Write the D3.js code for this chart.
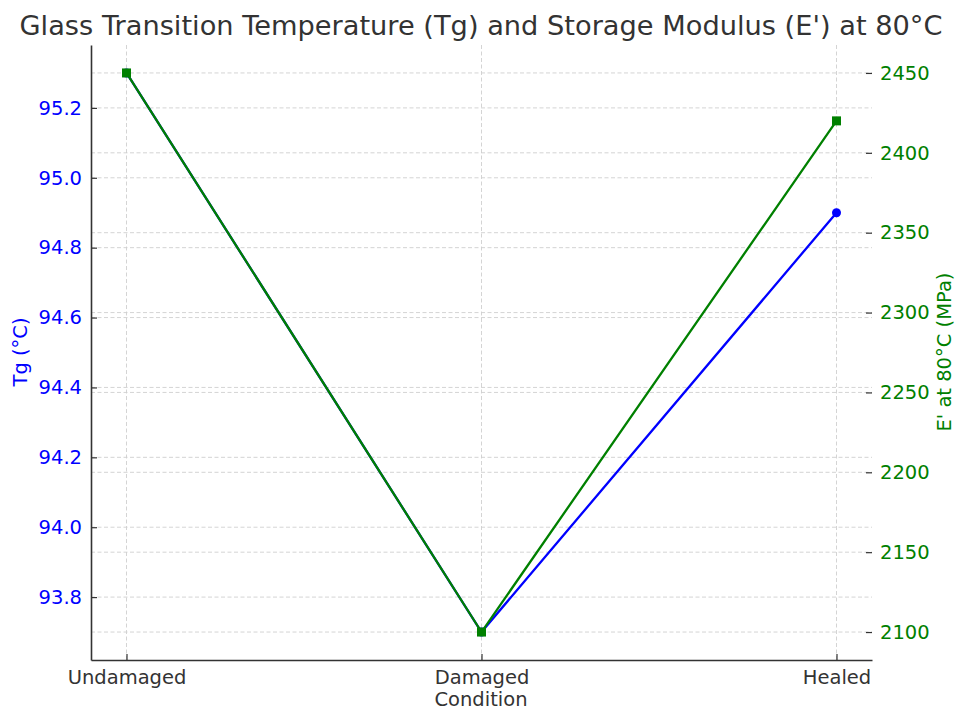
<!DOCTYPE html>
<html>
<head>
<meta charset="utf-8">
<script src="https://cdn.jsdelivr.net/npm/d3@7"></script>
<style>
  body { margin: 0; background: #fff; }
  text { font-family: "DejaVu Sans", sans-serif; }
</style>
</head>
<body>
<div id="chart"></div>
<script>
const conditions = ['Undamaged', 'Damaged', 'Healed']
const tgValues = [95.3, 93.7, 94.9]
const modulusValues = [2450, 2100, 2420]
const tgTicks = [93.8, 94.0, 94.2, 94.4, 94.6, 94.8, 95.0, 95.2]
const modulusTicks = [2100, 2150, 2200, 2250, 2300, 2350, 2400, 2450]

const w = 955
const h = 711
// plot box (names avoid window.top clash)
const plotL = 91, plotR = 872, plotT = 45, plotB = 660
const tgColor = '#0000ff'
const eColor = '#008000'

const svg = d3.select('#chart')
  .append('svg')
  .attr('width', w)
  .attr('height', h)

// category axis, 5% margin like matplotlib
const xScale = d3.scaleLinear()
  .domain([-0.1, 2.1])
  .range([plotL, plotR])

const pad = (a, b) => [a - (b - a) * 0.05, b + (b - a) * 0.05]

const yTg = d3.scaleLinear()
  .domain(pad(d3.min(tgValues), d3.max(tgValues)))
  .range([plotB, plotT])

const yE = d3.scaleLinear()
  .domain(pad(d3.min(modulusValues), d3.max(modulusValues)))
  .range([plotB, plotT])

// grids
const grid = svg.append('g')
  .attr('stroke', '#cfcfcf')
  .attr('stroke-width', 0.9)
  .attr('stroke-dasharray', '4,2.5')

grid.selectAll('.vg')
  .data(conditions)
  .enter()
  .append('line')
  .attr('x1', (d, i) => xScale(i))
  .attr('x2', (d, i) => xScale(i))
  .attr('y1', plotT)
  .attr('y2', plotB)

grid.selectAll('.hg1')
  .data(tgTicks)
  .enter()
  .append('line')
  .attr('x1', plotL)
  .attr('x2', plotR)
  .attr('y1', d => yTg(d))
  .attr('y2', d => yTg(d))

grid.selectAll('.hg2')
  .data(modulusTicks)
  .enter()
  .append('line')
  .attr('x1', plotL)
  .attr('x2', plotR)
  .attr('y1', d => yE(d))
  .attr('y2', d => yE(d))

// lines
const tgLine = d3.line()
  .x((d, i) => xScale(i))
  .y(d => yTg(d))

const eLine = d3.line()
  .x((d, i) => xScale(i))
  .y(d => yE(d))

svg.append('path')
  .datum(tgValues)
  .attr('d', tgLine)
  .attr('fill', 'none')
  .attr('stroke', tgColor)
  .attr('stroke-width', 2.3)

svg.selectAll('.tgpt')
  .data(tgValues)
  .enter()
  .append('circle')
  .attr('cx', (d, i) => xScale(i))
  .attr('cy', d => yTg(d))
  .attr('r', 4.5)
  .attr('fill', tgColor)

svg.append('path')
  .datum(modulusValues)
  .attr('d', eLine)
  .attr('fill', 'none')
  .attr('stroke', eColor)
  .attr('stroke-width', 2.3)

svg.selectAll('.ept')
  .data(modulusValues)
  .enter()
  .append('rect')
  .attr('x', (d, i) => xScale(i) - 4.5)
  .attr('y', d => yE(d) - 4.5)
  .attr('width', 9)
  .attr('height', 9)
  .attr('fill', eColor)

// axes
const xAxis = svg.append('g')
  .attr('transform', 'translate(0,' + plotB + ')')
  .call(d3.axisBottom(xScale)
    .tickValues([0, 1, 2])
    .tickFormat(i => conditions[i])
    .tickSizeInner(-6)
    .tickSizeOuter(0)
    .tickPadding(10))
xAxis.select('.domain').attr('stroke', '#333').attr('stroke-width', 1.6)
xAxis.selectAll('.tick line').attr('stroke', '#333').attr('stroke-width', 1.2)
xAxis.selectAll('.tick text').attr('fill', '#333').attr('font-size', 19.5).attr('font-family', 'DejaVu Sans')

const yAxisL = svg.append('g')
  .attr('transform', 'translate(' + plotL + ',0)')
  .call(d3.axisLeft(yTg)
    .tickValues(tgTicks)
    .tickFormat(d3.format('.1f'))
    .tickSizeInner(-6)
    .tickSizeOuter(0)
    .tickPadding(9))
yAxisL.select('.domain').attr('stroke', '#333').attr('stroke-width', 1.6)
yAxisL.selectAll('.tick line').attr('stroke', '#333').attr('stroke-width', 1.2)
yAxisL.selectAll('.tick text').attr('fill', tgColor).attr('font-size', 19.5).attr('font-family', 'DejaVu Sans')

const yAxisR = svg.append('g')
  .attr('transform', 'translate(' + plotR + ',0)')
  .call(d3.axisRight(yE)
    .tickValues(modulusTicks)
    .tickFormat(d3.format('d'))
    .tickSizeInner(-6)
    .tickSizeOuter(0)
    .tickPadding(8))
yAxisR.select('.domain').remove()
yAxisR.selectAll('.tick line').attr('stroke', '#333').attr('stroke-width', 1.2)
yAxisR.selectAll('.tick text').attr('fill', eColor).attr('font-size', 19.5).attr('font-family', 'DejaVu Sans')

// labels
svg.append('text')
  .attr('x', 481)
  .attr('y', 35)
  .attr('text-anchor', 'middle')
  .attr('font-size', 26)
  .attr('textLength', 923)
  .attr('lengthAdjust', 'spacingAndGlyphs')
  .attr('fill', '#333')
  .text("Glass Transition Temperature (Tg) and Storage Modulus (E') at 80°C")

svg.append('text')
  .attr('x', 481)
  .attr('y', 706)
  .attr('text-anchor', 'middle')
  .attr('font-size', 19.5)
  .attr('fill', '#333')
  .text('Condition')

svg.append('text')
  .attr('transform', 'translate(27,352) rotate(-90)')
  .attr('text-anchor', 'middle')
  .attr('font-size', 19.5)
  .attr('fill', tgColor)
  .text('Tg (°C)')

svg.append('text')
  .attr('transform', 'translate(951,352) rotate(-90)')
  .attr('text-anchor', 'middle')
  .attr('font-size', 19.5)
  .attr('fill', eColor)
  .text("E' at 80°C (MPa)")
</script>
</body>
</html>
